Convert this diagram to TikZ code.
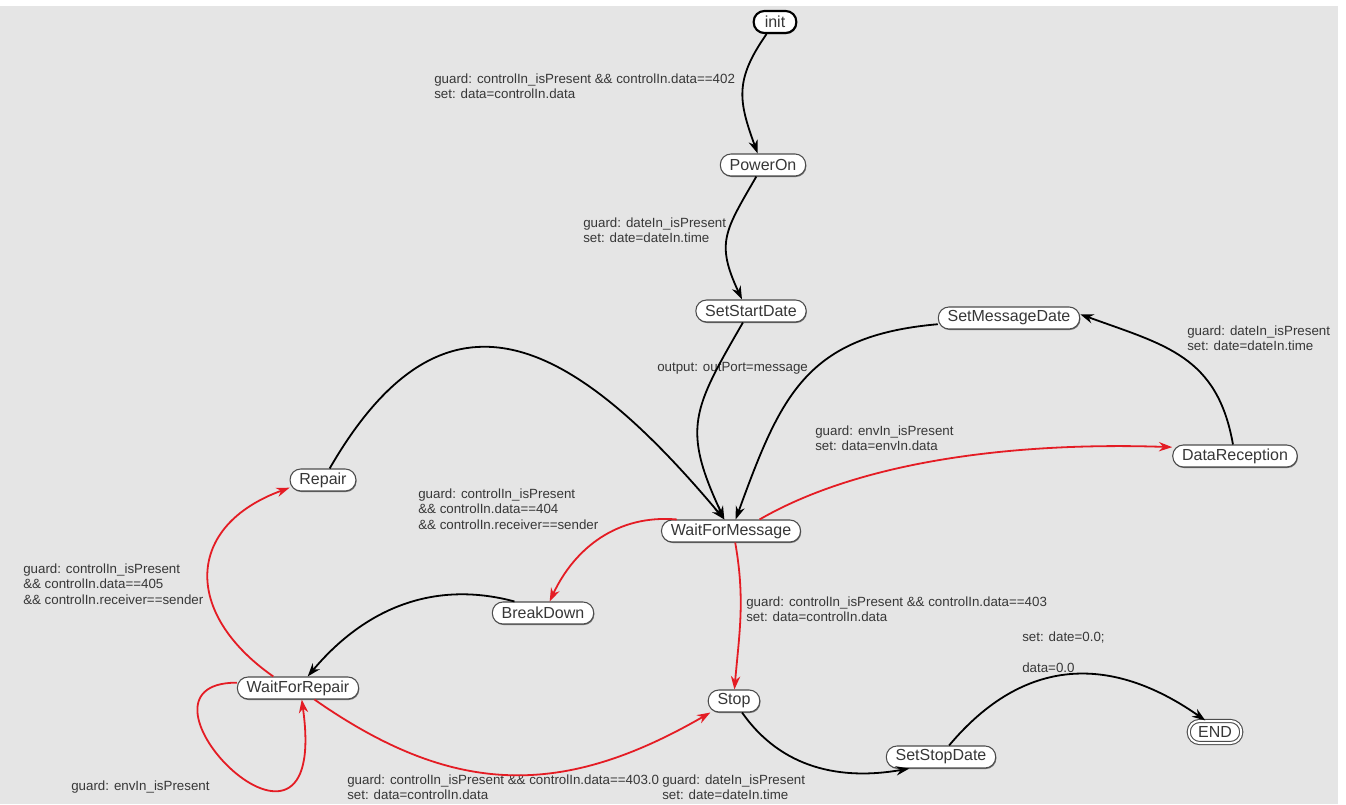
\documentclass[tikz,border=0pt]{standalone}
\usepackage{fontspec}
\setmainfont{Liberation Sans}
\usetikzlibrary{arrows.meta,shadows}
\definecolor{bggray}{RGB}{229,229,229}
\definecolor{txtgray}{RGB}{55,55,55}
\definecolor{trred}{RGB}{228,28,36}

\begin{document}
\begin{tikzpicture}[x=0.75pt,y=0.75pt,
  state/.style={draw=black!70,line width=0.8pt,fill=white,rounded corners=8pt,
    minimum height=16.5pt,minimum width=32pt,inner xsep=7pt,inner ysep=2pt,
    font=\fontsize{12}{14}\selectfont,text=txtgray,
    drop shadow={shadow xshift=0.5pt,shadow yshift=-0.8pt,fill=black!55,opacity=1}},
  lbl/.style={align=left,anchor=west,inner sep=0pt,text=txtgray,
    font=\fontsize{10}{11.6}\selectfont},
  every edge/.style={draw,line width=1.35pt},
  bad/.style={draw=trred}]
\useasboundingbox (0,0) rectangle (1346,804);
\fill[bggray] (0,0) rectangle (1338,798);

% states
\node[state,draw=black,line width=1.6pt] (qi) at (775,782) {init};
\node[state] (qp) at (763,639) {PowerOn};
\node[state] (qss) at (751,493) {SetStartDate};
\node[state] (qsm) at (1009,486) {SetMessageDate};
\node[state] (qdr) at (1235,348) {DataReception};
\node[state] (qr) at (323,324) {Repair};
\node[state] (qw) at (731,273) {WaitForMessage};
\node[state] (qbd) at (543,191) {BreakDown};
\node[state] (qwr) at (298,116) {WaitForRepair};
\node[state] (qs) at (734,103) {Stop};
\node[state] (qsd) at (941,47) {SetStopDate};
\node[state,double,double distance=1.5pt] (qe) at (1215,72) {END};

% guards
\node[lbl] (lpow) at (434,718) {guard: controlIn\_isPresent \&\& controlIn.data==402\\set: data=controlIn.data};
\node[lbl] (lstart) at (583,574) {guard: dateIn\_isPresent\\set: date=dateIn.time};
\node[lbl] (lout) at (657,436) {output: outPort=message};
\node[lbl] (lenv) at (815,366) {guard: envIn\_isPresent\\set: data=envIn.data};
\node[lbl] (ldate) at (1187,466) {guard: dateIn\_isPresent\\set: date=dateIn.time};
\node[lbl] (l404) at (418,295) {guard: controlIn\_isPresent\\\&\& controlIn.data==404\\\&\& controlIn.receiver==sender};
\node[lbl] (l405) at (23,220) {guard: controlIn\_isPresent\\\&\& controlIn.data==405\\\&\& controlIn.receiver==sender};
\node[lbl] (l403) at (746,194.5) {guard: controlIn\_isPresent \&\& controlIn.data==403\\set: data=controlIn.data};
\node[lbl] (lend) at (1022,152) {set: date=0.0;\\[11.6pt]data=0.0};
\node[lbl] (lloop) at (71,17) {guard: envIn\_isPresent};
\node[lbl] (l4030) at (347,17) {guard: controlIn\_isPresent \&\& controlIn.data==403.0\\set: data=controlIn.data};
\node[lbl] (lstop) at (662,17) {guard: dateIn\_isPresent\\set: date=dateIn.time};

\path[-{Stealth[length=10pt,width=7pt]}]
(qi.235) edge [out=235,in=110,looseness=1.2] (qp.115)
(qp.240) edge [out=240,in=115,looseness=1.3] (qss.128)
(qss.235) edge [out=240,in=115,looseness=1.3] (qw.120)
(qsm.185) edge [out=185,in=70,looseness=1.2] (qw.68)
(qdr.100) edge [out=100,in=-20,looseness=1.15] (qsm.3)
(qw.22) edge [bad,out=30,in=178,looseness=0.8] (qdr.172)
(qr.60) edge [out=60,in=130,looseness=1.5] (qw.120)
(qw.168) edge [bad,out=175,in=65] (qbd.60)
(qbd.158) edge [out=165,in=50] (qwr.50)
(qwr.155) edge [bad,out=145,in=200,looseness=1.5] (qr.193)
(qwr.175) edge [bad,out=180,in=-82,out distance=95pt,in distance=159pt] (qwr.288)
(qwr.325) edge [bad,out=-35,in=210,looseness=1.1] (qs.206)
(qw.290) edge [bad,out=-80,in=85] (qs.88)
(qs.305) edge [out=-55,in=190] (qsd.200)
(qsd.55) edge [out=50,in=145,looseness=1.15] (qe.130)
;
\end{tikzpicture}
\end{document}
